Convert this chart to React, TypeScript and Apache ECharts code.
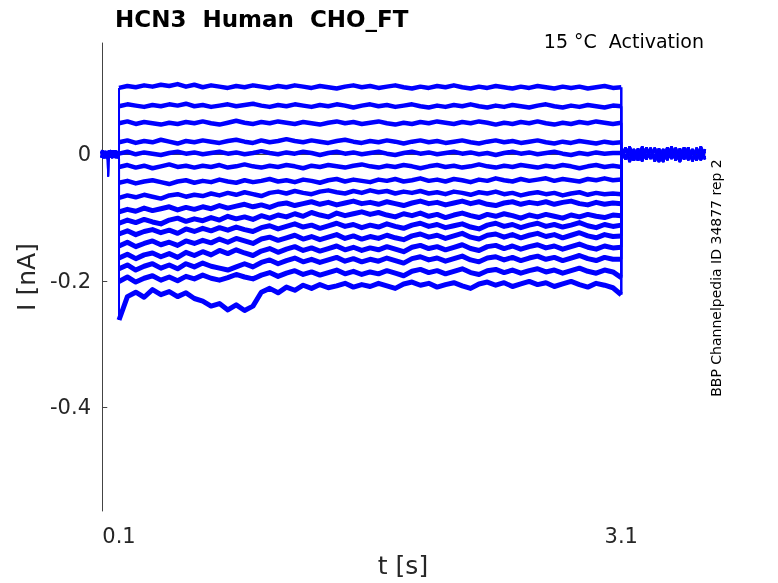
import React, { useEffect, useRef } from "react";
import * as echarts from "echarts";

// ---- time bases (s) ----
const TIME_PRE = [-0.007, 0.005, 0.015, 0.025, 0.032, 0.035, 0.038, 0.05, 0.06, 0.07, 0.08, 0.09, 0.1];
const TIME_MAIN = [
  0.1, 0.15, 0.2, 0.25, 0.3, 0.35, 0.4, 0.45, 0.5, 0.55,
  0.6, 0.65, 0.7, 0.75, 0.8, 0.85, 0.9, 0.95, 1.0, 1.05,
  1.1, 1.15, 1.2, 1.25, 1.3, 1.35, 1.4, 1.45, 1.5, 1.55,
  1.6, 1.65, 1.7, 1.75, 1.8, 1.85, 1.9, 1.95, 2.0, 2.05,
  2.1, 2.15, 2.2, 2.25, 2.3, 2.35, 2.4, 2.45, 2.5, 2.55,
  2.6, 2.65, 2.7, 2.75, 2.8, 2.85, 2.9, 2.95, 3.0, 3.05,
  3.1,
];
const TIME_TAIL = [3.1, 3.125, 3.15, 3.175, 3.2, 3.225, 3.25, 3.275, 3.3, 3.325, 3.35, 3.375, 3.4, 3.425, 3.45, 3.475, 3.5, 3.525, 3.55, 3.575, 3.6];

// ---- holding current before the step (nA) ----
const PRE_A = [0.004, -0.006, 0.005, -0.004, 0.003, -0.035, 0.002, -0.005, 0.006, -0.004, 0.005, -0.006, 0];
const PRE_B = [-0.005, 0.006, -0.004, 0.005, -0.006, -0.01, 0.004, 0.006, -0.005, 0.004, -0.006, 0.005, 0];
const PRE_C = [0.006, 0.003, -0.006, 0.004, -0.003, -0.008, -0.005, 0.003, -0.006, 0.006, -0.003, 0.004, 0];
const PRE_D = [-0.003, -0.005, 0.004, -0.006, 0.005, -0.012, 0.006, -0.004, 0.004, -0.005, 0.006, -0.004, 0];

// ---- current after the step (nA) ----
const TAIL_A = [0.01, -0.008, 0.012, -0.01, 0.009, -0.011, 0.011, -0.007, 0.01, -0.012, 0.008, -0.009, 0.012, -0.01, 0.009, -0.008, 0.011, -0.011, 0.01, -0.009, 0.008];
const TAIL_B = [-0.009, 0.011, -0.012, 0.008, -0.01, 0.012, -0.008, 0.01, -0.011, 0.009, -0.012, 0.011, -0.007, 0.01, -0.012, 0.011, -0.009, 0.008, -0.01, 0.012, -0.008];
const TAIL_C = [0.004, -0.003, 0.006, -0.005, 0.003, -0.006, 0.005, -0.002, 0.006, -0.004, 0.005, -0.006, 0.003, -0.005, 0.006, -0.004, 0.002, -0.006, 0.005, -0.003, 0.004];
const TAIL_D = [-0.005, 0.006, -0.002, 0.004, -0.006, 0.003, -0.004, 0.006, -0.003, 0.005, -0.002, 0.004, -0.006, 0.005, -0.003, 0.006, -0.005, 0.003, -0.004, 0.002, -0.005];

// ---- current during the test step (nA), one array per sweep ----
const SWEEP_01 = [
  0.105, 0.108, 0.106, 0.109, 0.107, 0.110, 0.108, 0.111, 0.107, 0.110,
  0.106, 0.109, 0.107, 0.105, 0.108, 0.106, 0.109, 0.107, 0.105, 0.108,
  0.106, 0.109, 0.107, 0.105, 0.108, 0.106, 0.104, 0.107, 0.109, 0.106,
  0.108, 0.105, 0.107, 0.109, 0.106, 0.104, 0.107, 0.105, 0.108, 0.106,
  0.109, 0.106, 0.104, 0.107, 0.105, 0.108, 0.106, 0.104, 0.107, 0.105,
  0.108, 0.106, 0.104, 0.107, 0.105, 0.107, 0.104, 0.106, 0.108, 0.105,
  0.106,
];
const SWEEP_02 = [
  0.076, 0.079, 0.077, 0.075, 0.078, 0.076, 0.079, 0.077, 0.080, 0.076,
  0.078, 0.075, 0.077, 0.079, 0.076, 0.078, 0.080, 0.077, 0.075, 0.078,
  0.076, 0.079, 0.077, 0.075, 0.078, 0.076, 0.079, 0.077, 0.074, 0.077,
  0.079, 0.076, 0.078, 0.075, 0.077, 0.079, 0.076, 0.074, 0.077, 0.075,
  0.078, 0.076, 0.079, 0.076, 0.074, 0.077, 0.075, 0.078, 0.076, 0.074,
  0.077, 0.079, 0.076, 0.074, 0.077, 0.075, 0.078, 0.076, 0.074, 0.077,
  0.076,
];
const SWEEP_03 = [
  0.049, 0.052, 0.048, 0.051, 0.049, 0.047, 0.050, 0.048, 0.051, 0.049,
  0.052, 0.049, 0.047, 0.050, 0.053, 0.050, 0.048, 0.051, 0.049, 0.052,
  0.050, 0.048, 0.051, 0.049, 0.047, 0.050, 0.052, 0.049, 0.051, 0.048,
  0.050, 0.052, 0.049, 0.047, 0.050, 0.048, 0.051, 0.049, 0.052, 0.050,
  0.048, 0.051, 0.049, 0.052, 0.050, 0.047, 0.050, 0.048, 0.051, 0.049,
  0.052, 0.049, 0.047, 0.050, 0.048, 0.051, 0.049, 0.052, 0.050, 0.048,
  0.050,
];
const SWEEP_04 = [
  0.019, 0.022, 0.018, 0.021, 0.019, 0.023, 0.020, 0.017, 0.021, 0.019,
  0.022, 0.020, 0.018, 0.021, 0.023, 0.020, 0.018, 0.022, 0.019, 0.021,
  0.024, 0.021, 0.019, 0.022, 0.020, 0.018, 0.021, 0.023, 0.020, 0.018,
  0.021, 0.019, 0.022, 0.020, 0.017, 0.020, 0.022, 0.019, 0.021, 0.018,
  0.020, 0.022, 0.019, 0.017, 0.020, 0.022, 0.019, 0.021, 0.018, 0.020,
  0.022, 0.019, 0.017, 0.020, 0.018, 0.021, 0.019, 0.017, 0.020, 0.018,
  0.019,
];
const SWEEP_05 = [
  0.001, 0.004, 0.000, 0.003, 0.001, -0.001, 0.002, 0.004, 0.001, 0.003,
  0.000, 0.002, 0.004, 0.001, 0.003, 0.000, 0.002, 0.005, 0.002, 0.000,
  0.003, 0.001, 0.004, 0.002, -0.001, 0.002, 0.004, 0.001, 0.003, 0.000,
  0.002, 0.004, 0.001, -0.001, 0.002, 0.004, 0.001, 0.003, 0.000, 0.002,
  0.004, 0.001, 0.003, 0.000, 0.002, -0.001, 0.002, 0.004, 0.001, 0.003,
  0.000, 0.002, 0.004, 0.001, -0.001, 0.002, 0.000, 0.003, 0.001, 0.002,
  0.002,
];
const SWEEP_06 = [
  -0.020, -0.017, -0.021, -0.018, -0.022, -0.019, -0.016, -0.020, -0.018, -0.021,
  -0.018, -0.020, -0.017, -0.021, -0.019, -0.016, -0.019, -0.021, -0.018, -0.020,
  -0.017, -0.019, -0.022, -0.018, -0.020, -0.017, -0.019, -0.021, -0.018, -0.016,
  -0.019, -0.021, -0.018, -0.020, -0.017, -0.019, -0.022, -0.019, -0.017, -0.020,
  -0.018, -0.021, -0.019, -0.016, -0.019, -0.021, -0.018, -0.020, -0.017, -0.019,
  -0.021, -0.018, -0.020, -0.017, -0.019, -0.022, -0.019, -0.017, -0.020, -0.018,
  -0.020,
];
const SWEEP_07 = [
  -0.045, -0.042, -0.046, -0.043, -0.041, -0.044, -0.047, -0.043, -0.041, -0.045,
  -0.042, -0.044, -0.040, -0.043, -0.045, -0.041, -0.044, -0.042, -0.039, -0.043,
  -0.041, -0.044, -0.040, -0.042, -0.045, -0.041, -0.039, -0.043, -0.040, -0.042,
  -0.044, -0.040, -0.042, -0.039, -0.043, -0.041, -0.038, -0.042, -0.040, -0.043,
  -0.039, -0.041, -0.044, -0.040, -0.042, -0.038, -0.041, -0.043, -0.039, -0.042,
  -0.040, -0.038, -0.042, -0.039, -0.041, -0.043, -0.039, -0.041, -0.038, -0.041,
  -0.040,
];
const SWEEP_08 = [
  -0.069, -0.065, -0.068, -0.064, -0.067, -0.070, -0.065, -0.063, -0.067, -0.064,
  -0.066, -0.062, -0.065, -0.061, -0.064, -0.060, -0.063, -0.066, -0.061, -0.059,
  -0.062, -0.058, -0.061, -0.063, -0.059, -0.057, -0.060, -0.062, -0.058, -0.061,
  -0.057, -0.060, -0.058, -0.062, -0.059, -0.061, -0.058, -0.062, -0.060, -0.063,
  -0.059, -0.061, -0.064, -0.060, -0.062, -0.059, -0.063, -0.061, -0.065, -0.062,
  -0.060, -0.063, -0.061, -0.065, -0.062, -0.060, -0.064, -0.061, -0.063, -0.062,
  -0.063,
];
const SWEEP_09 = [
  -0.091, -0.087, -0.090, -0.085, -0.089, -0.086, -0.083, -0.088, -0.084, -0.087,
  -0.083, -0.086, -0.081, -0.085, -0.082, -0.079, -0.083, -0.080, -0.084, -0.079,
  -0.077, -0.081, -0.078, -0.075, -0.079, -0.076, -0.080, -0.077, -0.074, -0.078,
  -0.076, -0.079, -0.075, -0.078, -0.081, -0.077, -0.074, -0.078, -0.076, -0.080,
  -0.077, -0.074, -0.078, -0.075, -0.079, -0.081, -0.077, -0.075, -0.079, -0.076,
  -0.078, -0.075, -0.079, -0.076, -0.074, -0.078, -0.080, -0.076, -0.079, -0.077,
  -0.078,
];
const SWEEP_10 = [
  -0.109, -0.104, -0.108, -0.103, -0.107, -0.110, -0.104, -0.101, -0.106, -0.102,
  -0.105, -0.100, -0.104, -0.098, -0.102, -0.099, -0.103, -0.097, -0.101, -0.096,
  -0.099, -0.094, -0.098, -0.092, -0.096, -0.099, -0.093, -0.097, -0.094, -0.091,
  -0.095, -0.092, -0.096, -0.099, -0.094, -0.097, -0.093, -0.098, -0.095, -0.100,
  -0.096, -0.093, -0.097, -0.100, -0.095, -0.098, -0.094, -0.097, -0.101, -0.096,
  -0.099, -0.095, -0.098, -0.101, -0.096, -0.099, -0.095, -0.098, -0.100, -0.096,
  -0.097,
];
const SWEEP_11 = [
  -0.126, -0.121, -0.127, -0.122, -0.119, -0.124, -0.120, -0.125, -0.118, -0.122,
  -0.117, -0.121, -0.116, -0.120, -0.115, -0.119, -0.122, -0.116, -0.113, -0.118,
  -0.114, -0.110, -0.115, -0.112, -0.117, -0.113, -0.109, -0.114, -0.111, -0.116,
  -0.112, -0.115, -0.110, -0.114, -0.117, -0.112, -0.109, -0.114, -0.111, -0.116,
  -0.113, -0.110, -0.115, -0.118, -0.112, -0.109, -0.114, -0.111, -0.116, -0.112,
  -0.109, -0.114, -0.111, -0.115, -0.112, -0.108, -0.113, -0.116, -0.111, -0.114,
  -0.112,
];
const SWEEP_12 = [
  -0.145, -0.139, -0.146, -0.141, -0.137, -0.143, -0.139, -0.144, -0.137, -0.141,
  -0.136, -0.140, -0.134, -0.139, -0.133, -0.137, -0.141, -0.134, -0.131, -0.136,
  -0.132, -0.128, -0.134, -0.130, -0.135, -0.131, -0.127, -0.133, -0.129, -0.134,
  -0.130, -0.133, -0.128, -0.132, -0.135, -0.129, -0.126, -0.131, -0.128, -0.133,
  -0.129, -0.125, -0.131, -0.134, -0.128, -0.126, -0.131, -0.127, -0.132, -0.128,
  -0.125, -0.130, -0.127, -0.132, -0.128, -0.124, -0.129, -0.132, -0.127, -0.130,
  -0.129,
];
const SWEEP_13 = [
  -0.164, -0.158, -0.165, -0.159, -0.156, -0.162, -0.157, -0.163, -0.155, -0.160,
  -0.154, -0.159, -0.152, -0.157, -0.151, -0.156, -0.160, -0.153, -0.149, -0.155,
  -0.150, -0.146, -0.152, -0.148, -0.153, -0.149, -0.145, -0.151, -0.147, -0.152,
  -0.148, -0.151, -0.146, -0.150, -0.154, -0.147, -0.144, -0.149, -0.146, -0.151,
  -0.147, -0.143, -0.149, -0.152, -0.146, -0.144, -0.149, -0.145, -0.150, -0.146,
  -0.143, -0.148, -0.145, -0.150, -0.146, -0.142, -0.147, -0.150, -0.145, -0.148,
  -0.147,
];
const SWEEP_14 = [
  -0.181, -0.175, -0.183, -0.177, -0.173, -0.180, -0.175, -0.181, -0.173, -0.178,
  -0.172, -0.177, -0.180, -0.183, -0.178, -0.173, -0.178, -0.171, -0.167, -0.173,
  -0.168, -0.164, -0.170, -0.166, -0.171, -0.167, -0.163, -0.169, -0.165, -0.170,
  -0.166, -0.169, -0.164, -0.168, -0.172, -0.165, -0.162, -0.167, -0.164, -0.169,
  -0.165, -0.161, -0.167, -0.170, -0.164, -0.162, -0.167, -0.163, -0.168, -0.164,
  -0.161, -0.166, -0.163, -0.168, -0.164, -0.160, -0.165, -0.168, -0.163, -0.166,
  -0.166,
];
const SWEEP_15 = [
  -0.201, -0.194, -0.202, -0.196, -0.192, -0.199, -0.194, -0.200, -0.193, -0.197,
  -0.191, -0.196, -0.199, -0.195, -0.190, -0.194, -0.197, -0.191, -0.187, -0.193,
  -0.188, -0.184, -0.190, -0.186, -0.191, -0.187, -0.183, -0.189, -0.185, -0.190,
  -0.186, -0.189, -0.184, -0.188, -0.192, -0.185, -0.182, -0.187, -0.184, -0.189,
  -0.185, -0.181, -0.187, -0.190, -0.184, -0.182, -0.187, -0.183, -0.188, -0.184,
  -0.181, -0.186, -0.183, -0.188, -0.184, -0.180, -0.185, -0.188, -0.183, -0.186,
  -0.195,
];
const SWEEP_16 = [
  -0.262, -0.225, -0.218, -0.226, -0.214, -0.222, -0.217, -0.225, -0.219, -0.228,
  -0.232, -0.240, -0.236, -0.246, -0.238, -0.247, -0.240, -0.218, -0.212, -0.219,
  -0.210, -0.215, -0.207, -0.212, -0.206, -0.211, -0.208, -0.204, -0.210, -0.206,
  -0.209, -0.204, -0.208, -0.212, -0.205, -0.202, -0.207, -0.204, -0.210, -0.206,
  -0.203, -0.208, -0.212, -0.205, -0.202, -0.207, -0.203, -0.209, -0.205, -0.201,
  -0.206, -0.203, -0.209, -0.205, -0.201, -0.206, -0.210, -0.204, -0.207, -0.211,
  -0.222,
];

const SWEEPS = [SWEEP_01, SWEEP_02, SWEEP_03, SWEEP_04, SWEEP_05, SWEEP_06, SWEEP_07, SWEEP_08, SWEEP_09, SWEEP_10, SWEEP_11, SWEEP_12, SWEEP_13, SWEEP_14, SWEEP_15, SWEEP_16];
const PRES = [PRE_A, PRE_B, PRE_C, PRE_D];
const TAILS = [TAIL_A, TAIL_B, TAIL_C, TAIL_D];

const X_TICKS = [0.1, 3.1];
const Y_TICKS = [-0.4, -0.2, 0];

const FONT = "DejaVu Sans";
const BLUE = "#0000ff";

export default function App() {
  const ref = useRef<HTMLDivElement>(null);

  useEffect(() => {
    if (!ref.current) return;
    const chart = echarts.init(ref.current, undefined, { renderer: "svg" });

    const series: any[] = [];
    SWEEPS.forEach((sw, i) => {
      const pre = PRES[i % 4];
      const tail = TAILS[(i + 1) % 4];
      const base = { type: "line", symbol: "none", silent: true, color: BLUE, animation: false, clip: true };
      series.push({
        ...base,
        lineStyle: { width: 2, color: BLUE },
        data: [...TIME_PRE.map((t, j) => [t, pre[j]]), [TIME_MAIN[0], sw[0]]],
      });
      series.push({
        ...base,
        lineStyle: { width: i < 8 ? 4.5 : 5, color: BLUE, join: "round" },
        data: TIME_MAIN.map((t, j) => [t, sw[j]]),
      });
      series.push({
        ...base,
        lineStyle: { width: 2.5, color: BLUE },
        data: [[TIME_MAIN[TIME_MAIN.length - 1], sw[sw.length - 1]], ...TIME_TAIL.map((t, j) => [t, tail[j]])],
      });
    });

    const axisLine = { show: true, lineStyle: { color: "#444", width: 1 } };
    const labelStyle = { fontFamily: FONT, fontSize: 21, color: "#262626" };

    chart.setOption({
      animation: false,
      grid: { left: 101, right: 73, top: 43, bottom: 70, containLabel: false },
      xAxis: {
        type: "value",
        min: -0.0076,
        max: 3.6,
        axisLine,
        splitLine: { show: false },
        axisTick: { show: true, inside: true, length: 5, customValues: X_TICKS, lineStyle: { color: "#444" } },
        axisLabel: { ...labelStyle, margin: 14, customValues: X_TICKS, formatter: (v: number) => v.toFixed(1) },
        name: "t [s]",
        nameLocation: "middle",
        nameGap: 42,
        nameTextStyle: { fontFamily: FONT, fontSize: 25, color: "#262626" },
      },
      yAxis: {
        type: "value",
        min: -0.564,
        max: 0.176,
        axisLine,
        splitLine: { show: false },
        axisTick: { show: true, inside: true, length: 5, customValues: Y_TICKS, lineStyle: { color: "#444" } },
        axisLabel: { ...labelStyle, margin: 10, customValues: Y_TICKS, formatter: (v: number) => (v === 0 ? "0" : v.toFixed(1)) },
        name: "I [nA]",
        nameLocation: "middle",
        nameGap: 60,
        nameTextStyle: { fontFamily: FONT, fontSize: 25, color: "#262626" },
      },
      graphic: [
        {
          type: "text",
          left: 115,
          top: 7,
          style: { text: "HCN3  Human  CHO_FT", fontFamily: FONT, fontWeight: "bold", fontSize: 23, fill: "#000" },
        },
        {
          type: "text",
          x: 704,
          y: 41,
          style: { text: "15 °C  Activation", fontFamily: FONT, fontSize: 19, fill: "#000", textAlign: "right", textVerticalAlign: "middle" },
        },
        {
          type: "text",
          x: 716,
          y: 278,
          rotation: Math.PI / 2,
          style: { text: "BBP Channelpedia ID 34877 rep 2", fontFamily: FONT, fontSize: 14, fill: "#000", textAlign: "center", textVerticalAlign: "middle" },
        },
      ],
      series,
    });

    return () => chart.dispose();
  }, []);

  return <div ref={ref} style={{ position: "fixed", left: 0, top: 0, width: 778, height: 583 }} />;
}
